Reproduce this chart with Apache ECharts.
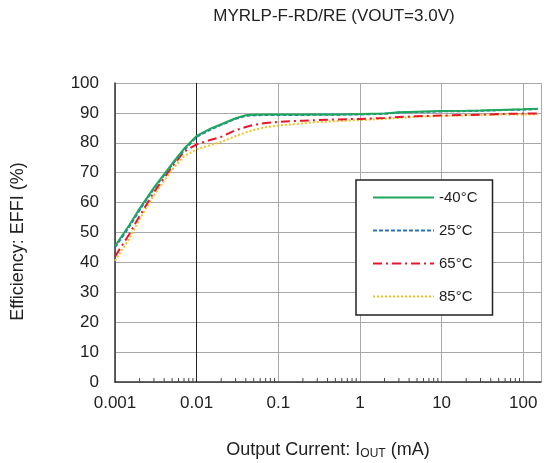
<!DOCTYPE html>
<html>
<head>
<meta charset="utf-8">
<script src="https://cdn.jsdelivr.net/npm/echarts@6/dist/echarts.min.js"></script>
<style>
html,body{margin:0;padding:0;background:#fff;}
#chart{width:549px;height:463px;}
</style>
</head>
<body>
<div id="chart"></div>
<script>
const titleText = 'MYRLP-F-RD/RE (VOUT=3.0V)';
const seriesNames = ['-40°C', '25°C', '65°C', '85°C'];
const currents = [0.001, 0.0015, 0.002, 0.003, 0.005, 0.007, 0.01, 0.015, 0.02, 0.03, 0.04, 0.05, 0.07, 0.1, 0.2, 0.3, 0.5, 1, 2, 3, 5, 10, 20, 30, 50, 100, 150];
const effM40 = [45.5, 52.5, 58, 65, 73, 78, 82.3, 84.8, 86.2, 88.2, 89.2, 89.4, 89.5, 89.5, 89.5, 89.5, 89.5, 89.6, 89.8, 90.2, 90.4, 90.6, 90.7, 90.8, 91, 91.2, 91.4];
const eff25 = [45, 52, 57.5, 64.7, 72.7, 77.5, 82, 84.5, 86, 88, 89, 89.2, 89.3, 89.3, 89.3, 89.4, 89.4, 89.5, 89.7, 90.1, 90.3, 90.5, 90.6, 90.7, 90.9, 91.1, 91.3];
const eff65 = [42, 49.5, 55.5, 63.5, 72, 77, 79.5, 81, 82, 84.2, 85.3, 86, 86.6, 87, 87.4, 87.6, 87.8, 88, 88.3, 88.6, 88.9, 89.1, 89.3, 89.4, 89.6, 89.8, 89.8];
const eff85 = [40.5, 48, 54.5, 62.5, 71, 75.5, 77.8, 79.3, 80.3, 82.2, 83.5, 84.3, 85.2, 85.8, 86.5, 86.9, 87.2, 87.6, 88, 88.3, 88.7, 89, 89.2, 89.3, 89.4, 89.5, 89.5];
const xTickLabels = ['0.001', '0.01', '0.1', '1', '10', '100'];
const decades = [0.001, 0.01, 0.1, 1, 10, 100];
const minorSteps = [2, 3, 4, 5, 6, 7, 8, 9];
const darkGridX = [0.01];
const xMin = 0.001, xMax = 165;

const FONT = 'Liberation Sans, Arial, sans-serif';
const colors = ['#1fa85c', '#2d72c4', '#e8162c', '#f2c21e'];
const lineTypes = ['solid', [4, 2], [9, 4, 2, 4], [2, 2]];
const effs = [effM40, eff25, eff65, eff85];

const minorTicks = [];
decades.forEach(d => minorSteps.forEach(k => { if (d * k <= xMax) minorTicks.push([d * k, 0]); }));

const chart = echarts.init(document.getElementById('chart'), null, {renderer: 'canvas'});

const series = effs.map((arr, i) => ({
  name: seriesNames[i],
  type: 'line',
  data: currents.map((c, j) => [c, arr[j]]),
  symbol: 'none',
  smooth: false,
  z: 10 - i,
  lineStyle: {color: colors[i], width: 2, type: lineTypes[i]},
  itemStyle: {color: colors[i]}
}));

series.push({
  type: 'custom',
  name: 'minor',
  silent: true,
  data: minorTicks,
  encode: {x: 0, y: 1},
  renderItem: function (params, api) {
    const p = api.coord([api.value(0), 0]);
    return {type: 'line', shape: {x1: p[0], y1: p[1], x2: p[0], y2: p[1] - 4}, style: {stroke: '#444', lineWidth: 1}};
  },
  markLine: {
    silent: true,
    symbol: 'none',
    label: {show: false},
    lineStyle: {color: '#222', width: 1, type: 'solid'},
    data: darkGridX.map(v => ({xAxis: v}))
  },
  z: 3
});

chart.setOption({
  animation: false,
  backgroundColor: '#fff',
  title: {
    text: titleText,
    left: 329,
    textAlign: 'center',
    top: 3,
    textStyle: {fontFamily: FONT, fontSize: 17, fontWeight: 'normal', color: '#222'}
  },
  legend: {
    data: seriesNames,
    orient: 'vertical',
    left: 356,
    top: 180,
    padding: [10, 15, 11, 16],
    itemWidth: 61,
    itemHeight: 14,
    itemGap: 18,
    itemStyle: {opacity: 0},
    backgroundColor: '#fff',
    borderColor: '#222',
    borderWidth: 1.5,
    textStyle: {fontFamily: FONT, fontSize: 15, color: '#222'}
  },
  grid: {left: 115, right: 8, top: 83, bottom: 81, containLabel: false, outerBoundsMode: 'none'},
  xAxis: {
    type: 'log',
    logBase: 10,
    min: xMin,
    max: xMax,
    name: '{a|Output Current: I}{s|OUT}{a| (mA)}',
    nameLocation: 'middle',
    nameGap: 58,
    nameTextStyle: {
      fontFamily: FONT, color: '#222',
      rich: {
        a: {fontFamily: FONT, fontSize: 18, color: '#222'},
        s: {fontFamily: FONT, fontSize: 12, color: '#222', padding: [8, 0, 0, 0]}
      }
    },
    axisLine: {show: true, lineStyle: {color: '#333', width: 1.5}},
    axisTick: {show: false},
    axisLabel: {
      fontFamily: FONT, fontSize: 17, color: '#222', margin: 13,
      showMaxLabel: false,
      formatter: function (v) {
        const lg = Math.log10(v);
        const e = Math.round(lg);
        if (Math.abs(lg - e) > 1e-6) return '';
        return xTickLabels[e + 3] || '';
      }
    },
    splitLine: {show: true, lineStyle: {color: '#a8a8a8', width: 1}},
    minorTick: {show: false},
    minorSplitLine: {show: false}
  },
  yAxis: {
    type: 'value',
    min: 0,
    max: 100,
    interval: 10,
    name: 'Efficiency: EFFI (%)',
    nameLocation: 'middle',
    nameRotate: 90,
    nameGap: 88,
    nameTextStyle: {fontFamily: FONT, fontSize: 18, color: '#222', padding: [0, 18, 0, 0]},
    axisLine: {show: true, lineStyle: {color: '#333', width: 1.5}},
    axisTick: {show: false},
    axisLabel: {fontFamily: FONT, fontSize: 17, color: '#222', margin: 16},
    splitLine: {show: true, lineStyle: {color: '#a8a8a8', width: 1}}
  },
  series: series
});
</script>
</body>
</html>
